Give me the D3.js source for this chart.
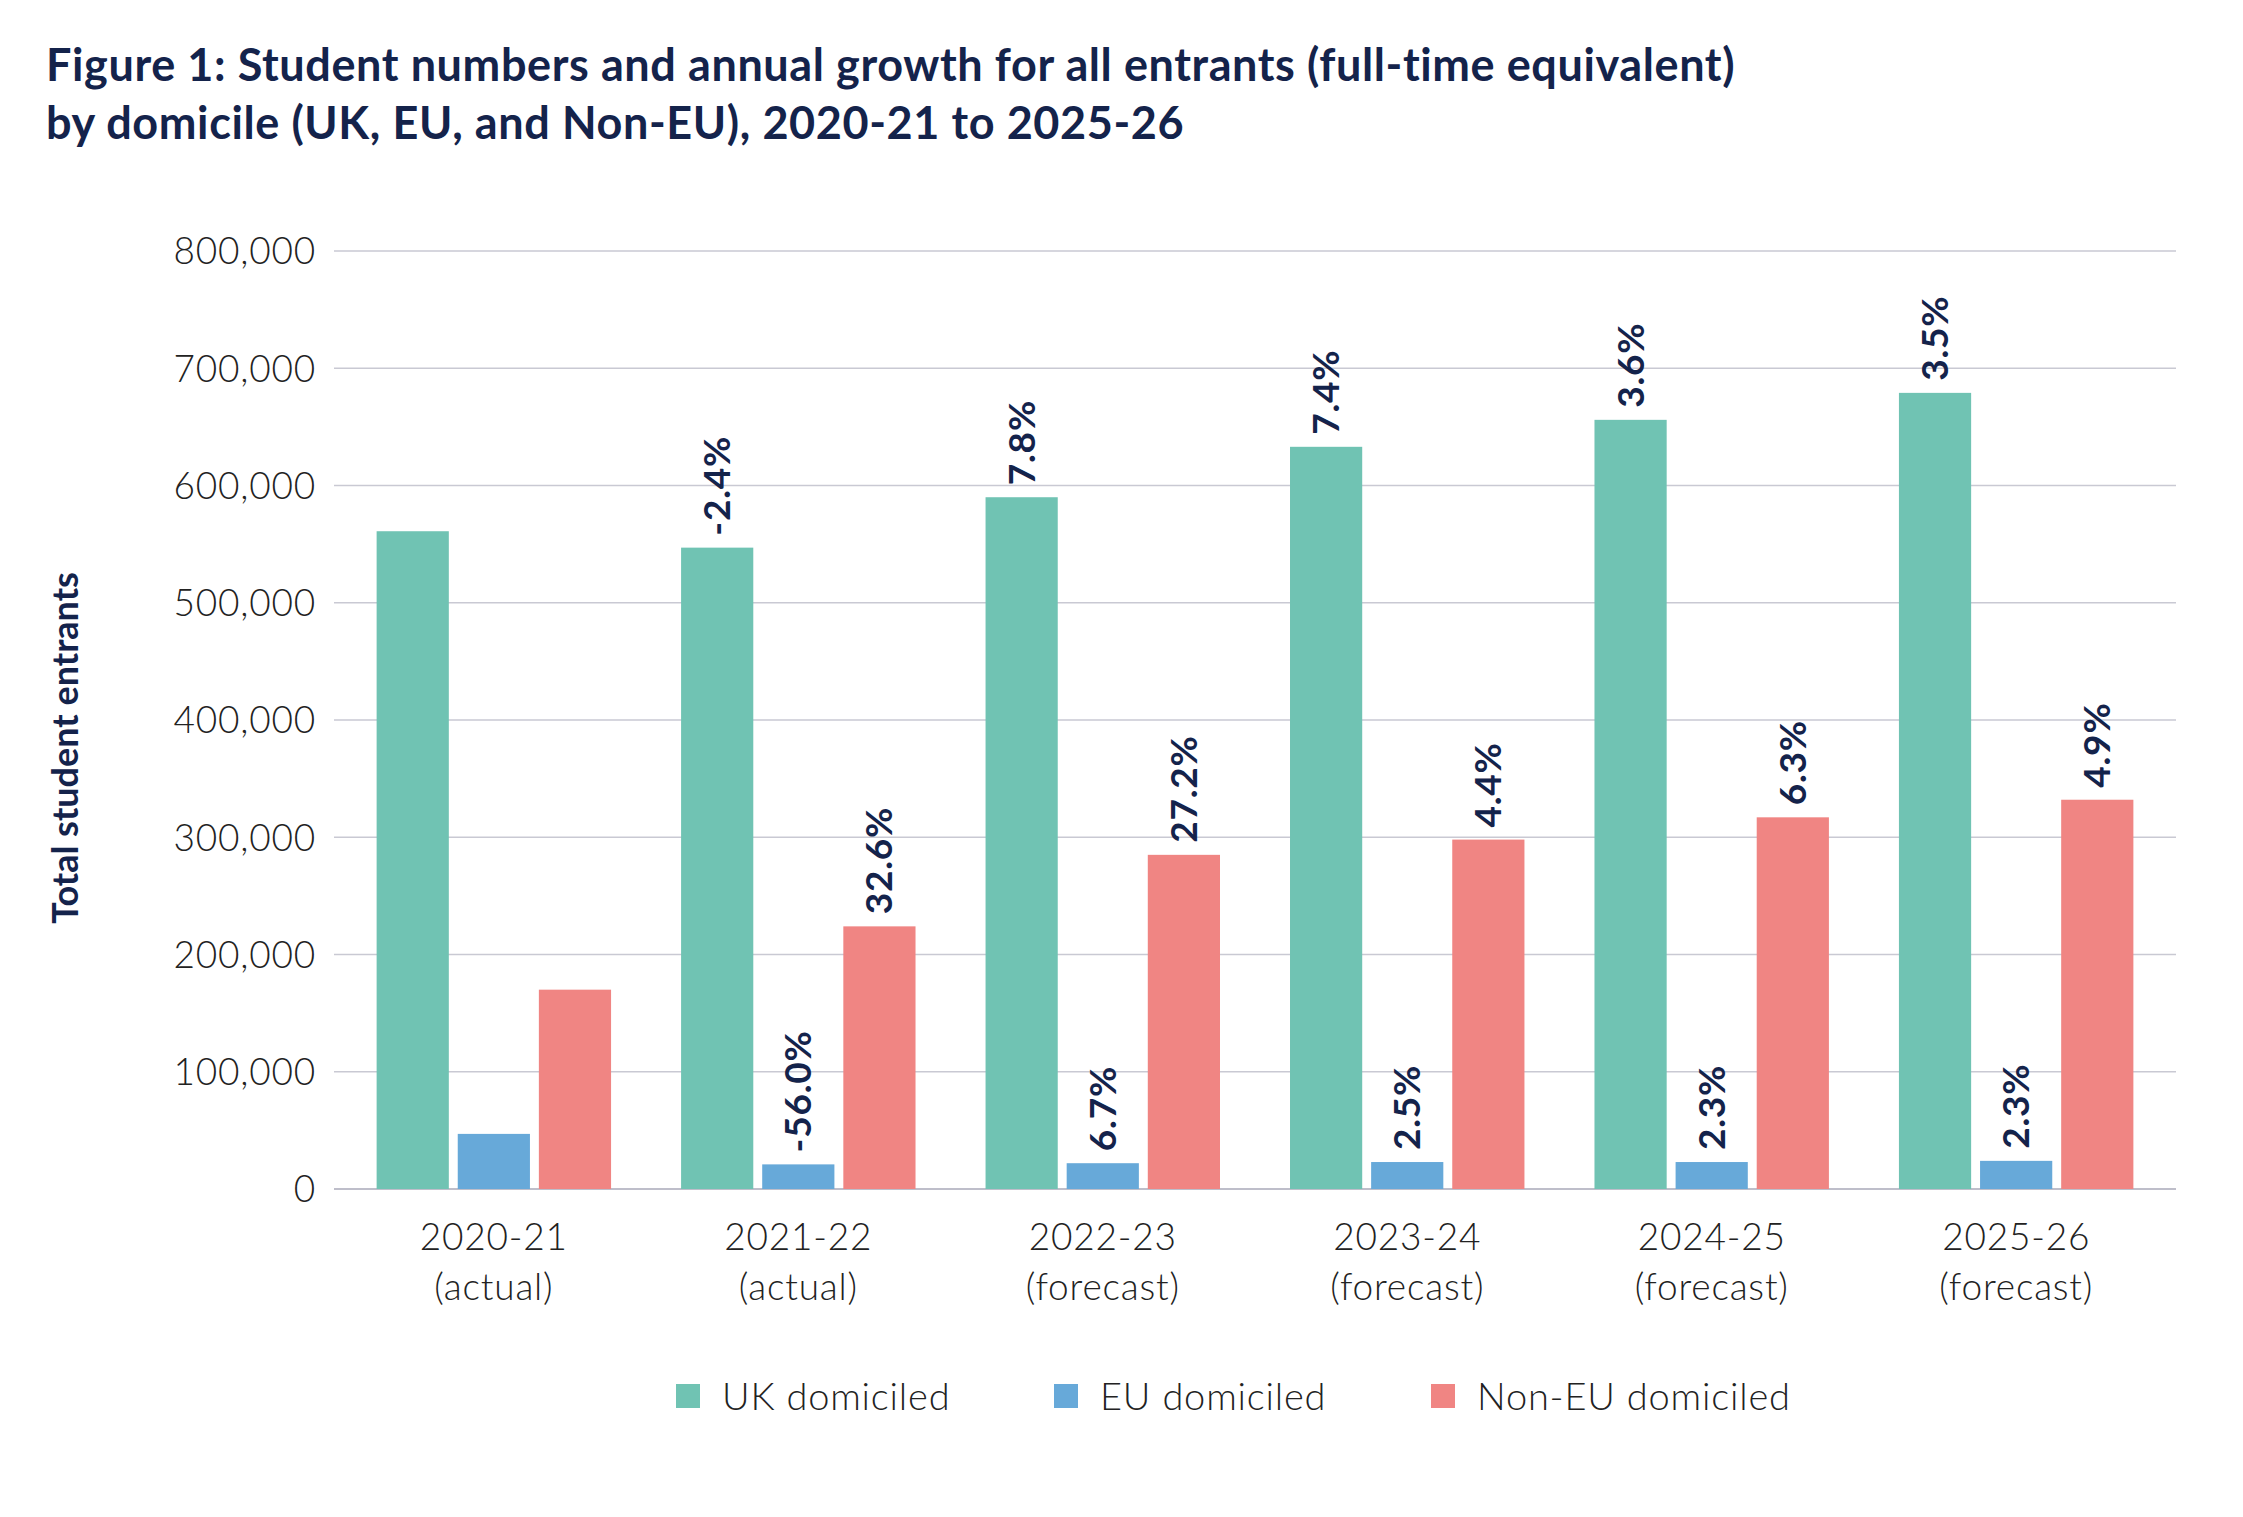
<!DOCTYPE html>
<html><head><meta charset="utf-8">
<script src="https://cdn.jsdelivr.net/npm/d3@7"></script>
<style>body{margin:0;background:#fff}text{font-family:Lato,"Open Sans",sans-serif}</style>
</head><body>
<svg id="chart" width="2243" height="1517"></svg>
<script>
const years = ["2020-21", "2021-22", "2022-23", "2023-24", "2024-25", "2025-26"]
const status = ["(actual)", "(actual)", "(forecast)", "(forecast)", "(forecast)", "(forecast)"]
const series = ["UK domiciled", "EU domiciled", "Non-EU domiciled"]
const ukValues = [561000, 547000, 590000, 633000, 656000, 679000]
const euValues = [47000, 21000, 22000, 23000, 23000, 24000]
const nonEuValues = [170000, 224000, 285000, 298000, 317000, 332000]
const ukGrowth = ["", "-2.4%", "7.8%", "7.4%", "3.6%", "3.5%"]
const euGrowth = ["", "-56.0%", "6.7%", "2.5%", "2.3%", "2.3%"]
const nonEuGrowth = ["", "32.6%", "27.2%", "4.4%", "6.3%", "4.9%"]
const yTicks = [0, 100000, 200000, 300000, 400000, 500000, 600000, 700000, 800000]

const colors = ["#70c3b3", "#67a9d9", "#f08583"]
const navy = "#14234b"
const svg = d3.select("#chart")

const x = d3.scaleBand().domain(years).range([334, 2176]).paddingInner(0.23).paddingOuter(0.14)
const xs = d3.scaleBand().domain(series).range([0, x.bandwidth()]).paddingInner(0.11)
const y = d3.scaleLinear().domain([0, 800000]).range([1189, 251])

// title
svg.append("text").attr("x", 46).attr("y", 81).attr("font-size", 45).attr("font-weight", 700).attr("fill", navy)
  .attr("letter-spacing", 0.6)
  .text("Figure 1: Student numbers and annual growth for all entrants (full-time equivalent)")
svg.append("text").attr("x", 46).attr("y", 139).attr("font-size", 45).attr("font-weight", 700).attr("fill", navy)
  .attr("letter-spacing", 0.6)
  .text("by domicile (UK, EU, and Non-EU), 2020-21 to 2025-26")

// grid + y ticks
svg.selectAll(".grid").data(yTicks).join("line")
  .attr("x1", 334).attr("x2", 2176).attr("y1", (d) => y(d)).attr("y2", (d) => y(d))
  .attr("stroke", (d) => (d === 0 ? "#a8a8b8" : "#c9c9d3")).attr("stroke-width", 1.5)
svg.selectAll(".ytick").data(yTicks).join("text")
  .attr("x", 316).attr("y", (d) => y(d)).attr("dy", "0.36em").attr("text-anchor", "end")
  .attr("font-size", 37).attr("font-weight", 300).attr("letter-spacing", 0.8).attr("fill", "#222").text((d) => d3.format(",")(d))
svg.append("text").attr("transform", "translate(78,748) rotate(-90)").attr("text-anchor", "middle")
  .attr("font-size", 36).attr("font-weight", 700).attr("fill", navy).text("Total student entrants")

// bars
const rows = years.map((yr, i) => ({
  yr,
  vals: [
    { s: series[0], v: ukValues[i], g: ukGrowth[i] },
    { s: series[1], v: euValues[i], g: euGrowth[i] },
    { s: series[2], v: nonEuValues[i], g: nonEuGrowth[i] },
  ],
}))
const groups = svg.selectAll(".grp").data(rows).join("g")
  .attr("transform", (d) => `translate(${x(d.yr)},0)`)
groups.selectAll("rect").data((d) => d.vals).join("rect")
  .attr("x", (d) => xs(d.s)).attr("width", xs.bandwidth())
  .attr("y", (d) => y(d.v)).attr("height", (d) => y(0) - y(d.v))
  .attr("fill", (d, i) => colors[i])
groups.selectAll(".lbl").data((d) => d.vals).join("text")
  .attr("transform", (d) => `translate(${xs(d.s) + xs.bandwidth() / 2 + 13},${y(d.v) - 12}) rotate(-90)`)
  .attr("font-size", 37).attr("font-weight", 700).attr("letter-spacing", 0.8).attr("fill", navy).text((d) => d.g)

// x labels
years.forEach((yr, i) => {
  const cx = x(yr) + x.bandwidth() / 2
  svg.append("text").attr("x", cx).attr("y", 1250).attr("text-anchor", "middle").attr("font-size", 37).attr("font-weight", 300).attr("letter-spacing", 0.8).attr("fill", "#222").text(yr)
  svg.append("text").attr("x", cx).attr("y", 1300).attr("text-anchor", "middle").attr("font-size", 37).attr("font-weight", 300).attr("letter-spacing", 0.8).attr("fill", "#222").text(status[i])
})

// legend
const legX = [676, 1054, 1431]
series.forEach((s, i) => {
  svg.append("rect").attr("x", legX[i]).attr("y", 1384).attr("width", 24).attr("height", 24).attr("fill", colors[i])
  svg.append("text").attr("x", legX[i] + 46).attr("y", 1396).attr("dy", "0.36em").attr("font-size", 38).attr("font-weight", 300).attr("letter-spacing", 0.8).attr("fill", "#222").text(s)
})
</script>
</body></html>
